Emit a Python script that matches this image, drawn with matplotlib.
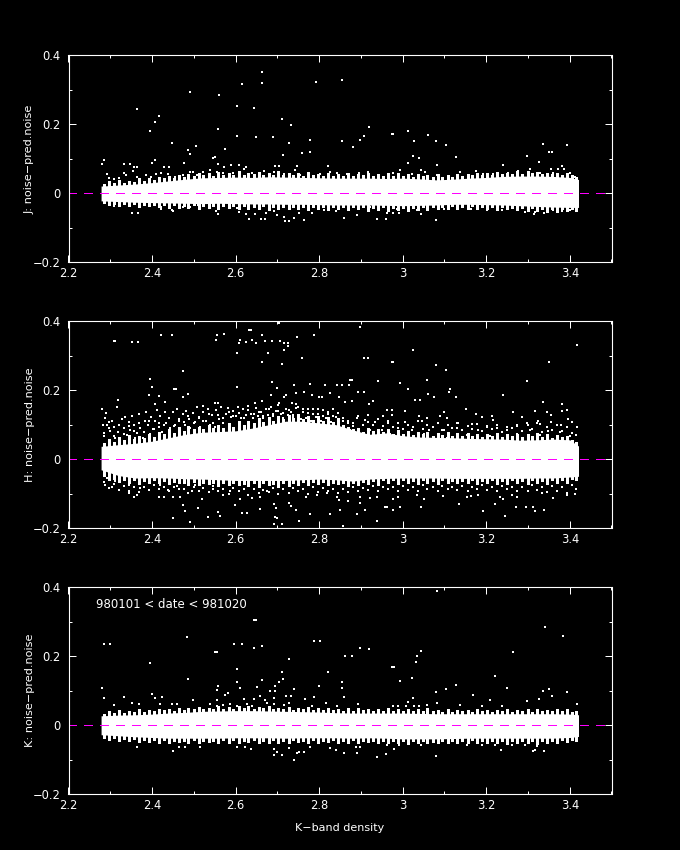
import numpy as np
import matplotlib
matplotlib.use('Agg')
import matplotlib.pyplot as plt

plt.rcParams['font.family'] = ['DejaVu Sans']

x_ticks = [2.2, 2.4, 2.6, 2.8, 3.0, 3.2, 3.4]
x_tick_labels = ['2.2', '2.4', '2.6', '2.8', '3', '3.2', '3.4']
y_ticks = [-0.2, 0, 0.2, 0.4]
y_tick_labels = ['\u22120.2', '0', '0.2', '0.4']
y_names = ['J: noise\u2212pred.noise', 'H: noise\u2212pred.noise', 'K: noise\u2212pred.noise']
x_name = 'K\u2212band density'
date_note = '980101 < date < 981020'

# edges of the solid white band
band_x = [2.278, 2.32, 2.36, 2.40, 2.44, 2.48, 2.52, 2.56, 2.60, 2.64, 2.68, 2.72, 2.76, 2.80, 2.84,
          2.88, 2.92, 2.96, 3.00, 3.04, 3.08, 3.12, 3.16, 3.20, 3.24, 3.28, 3.32, 3.36, 3.40, 3.421]
j_hi = [.021, .024, .027, .031, .036, .041, .045, .046, .047, .046, .048, .047, .046, .045, .044,
        .044, .044, .043, .044, .042, .039, .041, .044, .046, .049, .050, .050, .049, .046, .040]
j_lo = [-.022, -.024, -.026, -.027, -.028, -.029, -.030, -.029, -.030, -.031, -.031, -.032, -.032, -.033, -.034,
        -.034, -.034, -.035, -.036, -.035, -.034, -.032, -.032, -.033, -.034, -.036, -.038, -.040, -.041, -.041]
h_hi = [.037, .042, .046, .052, .062, .072, .078, .080, .082, .090, .100, .110, .110, .105, .100,
        .085, .072, .076, .068, .064, .063, .062, .060, .059, .058, .055, .056, .058, .056, .038]
h_lo = [-.031, -.048, -.055, -.054, -.055, -.057, -.058, -.060, -.062, -.062, -.062, -.062, -.060, -.058, -.060,
        -.064, -.058, -.056, -.055, -.055, -.055, -.056, -.056, -.056, -.056, -.056, -.055, -.055, -.052, -.050]
k_hi = [.027, .029, .030, .032, .035, .037, .040, .041, .042, .042, .041, .040, .039, .038, .036,
        .035, .035, .035, .035, .034, .033, .033, .033, .033, .033, .033, .033, .033, .032, .030]
k_lo = [-.028, -.031, -.034, -.036, -.038, -.038, -.038, -.038, -.037, -.037, -.037, -.038, -.037, -.037, -.037,
        -.038, -.037, -.038, -.040, -.040, -.040, -.039, -.038, -.038, -.038, -.038, -.038, -.038, -.036, -.033]

# rough edge of the band, one value per fringe_x
fringe_x = [2.285, 2.296, 2.309, 2.320, 2.333, 2.344, 2.357, 2.368, 2.380, 2.393, 2.404, 2.416,
            2.428, 2.441, 2.452, 2.464, 2.476, 2.487, 2.500, 2.512, 2.523, 2.536, 2.547, 2.559,
            2.571, 2.584, 2.595, 2.607, 2.619, 2.630, 2.643, 2.655, 2.666, 2.679, 2.690, 2.702,
            2.714, 2.727, 2.738, 2.750, 2.762, 2.773, 2.786, 2.798, 2.809, 2.822, 2.833, 2.845,
            2.857, 2.870, 2.881, 2.893, 2.905, 2.916, 2.929, 2.941, 2.952, 2.965, 2.976, 2.988,
            3.000, 3.013, 3.024, 3.036, 3.048, 3.059, 3.072, 3.084, 3.095, 3.108, 3.119, 3.131,
            3.143, 3.156, 3.167, 3.179, 3.191, 3.202, 3.215, 3.227, 3.238, 3.251, 3.262, 3.274,
            3.286, 3.299, 3.310, 3.322, 3.334, 3.345, 3.358, 3.370, 3.381, 3.394, 3.405, 3.416]
j_edges = [
    [.027, .035, .031, .040, .030, .036, .033, .043, .036, .045, .038, .048,
     .043, .050, .044, .054, .048, .056, .050, .058, .052, .060, .051, .062,
     .053, .060, .052, .064, .053, .059, .055, .062, .052, .060, .054, .065,
     .052, .060, .053, .058, .051, .062, .052, .057, .050, .060, .051, .056,
     .050, .058, .049, .056, .052, .060, .049, .055, .050, .058, .049, .060,
     .050, .057, .048, .056, .049, .054, .046, .055, .047, .052, .048, .056,
     .050, .057, .052, .060, .052, .058, .054, .062, .056, .060, .057, .064,
     .057, .065, .058, .062, .056, .060, .055, .059, .053, .058, .052, .046],
    [-.028, -.035, -.030, -.038, -.032, -.036, -.031, -.040, -.033, -.038, -.034, -.041,
     -.035, -.042, -.034, -.044, -.036, -.042, -.035, -.045, -.037, -.043, -.036, -.046,
     -.037, -.044, -.038, -.047, -.037, -.045, -.039, -.046, -.038, -.048, -.040, -.046,
     -.039, -.047, -.040, -.046, -.041, -.048, -.039, -.047, -.040, -.049, -.041, -.046,
     -.041, -.048, -.040, -.047, -.041, -.050, -.042, -.048, -.041, -.051, -.043, -.048,
     -.042, -.050, -.043, -.048, -.041, -.049, -.040, -.047, -.039, -.046, -.038, -.047,
     -.039, -.046, -.038, -.045, -.039, -.047, -.040, -.048, -.041, -.047, -.042, -.049,
     -.043, -.050, -.044, -.052, -.045, -.053, -.046, -.054, -.047, -.052, -.047, -.050],
]
h_edges = [
    [.046, .058, .050, .064, .054, .070, .058, .066, .060, .074, .064, .080,
     .072, .086, .076, .092, .082, .096, .086, .094, .088, .100, .090, .098,
     .090, .104, .094, .112, .098, .110, .104, .118, .108, .122, .112, .124,
     .116, .128, .118, .130, .116, .126, .114, .124, .112, .122, .108, .118,
     .100, .094, .086, .090, .080, .090, .082, .088, .078, .086, .074, .084,
     .072, .082, .070, .080, .072, .078, .068, .076, .070, .080, .066, .076,
     .068, .076, .066, .074, .064, .072, .066, .076, .064, .072, .066, .074,
     .064, .072, .066, .076, .064, .074, .062, .070, .064, .068, .056, .050],
    [-.048, -.060, -.058, -.066, -.060, -.068, -.062, -.072, -.064, -.070, -.062, -.068,
     -.064, -.072, -.066, -.070, -.068, -.074, -.066, -.076, -.068, -.072, -.070, -.078,
     -.070, -.076, -.068, -.074, -.072, -.078, -.070, -.080, -.070, -.076, -.072, -.082,
     -.068, -.078, -.070, -.074, -.066, -.076, -.066, -.072, -.066, -.074, -.068, -.072,
     -.070, -.078, -.068, -.074, -.066, -.072, -.064, -.074, -.062, -.070, -.062, -.072,
     -.062, -.070, -.064, -.072, -.062, -.068, -.063, -.071, -.062, -.069, -.064, -.070,
     -.063, -.070, -.062, -.072, -.064, -.069, -.062, -.071, -.063, -.072, -.062, -.070,
     -.063, -.072, -.062, -.070, -.064, -.071, -.062, -.069, -.060, -.068, -.058, -.062],
]
k_edges = [
    [.033, .041, .035, .045, .036, .040, .038, .046, .039, .044, .040, .047,
     .043, .048, .042, .050, .045, .049, .047, .053, .046, .050, .048, .054,
     .047, .052, .048, .054, .049, .056, .047, .052, .049, .055, .047, .051,
     .046, .052, .045, .050, .046, .053, .044, .050, .043, .049, .044, .048,
     .042, .049, .041, .050, .043, .047, .041, .048, .042, .050, .041, .047,
     .041, .048, .040, .046, .041, .049, .040, .045, .039, .047, .039, .044,
     .040, .045, .039, .046, .040, .044, .039, .045, .041, .046, .039, .043,
     .040, .046, .039, .047, .040, .045, .041, .048, .040, .046, .039, .042],
    [-.036, -.044, -.038, -.047, -.041, -.046, -.040, -.050, -.043, -.048, -.044, -.051,
     -.044, -.052, -.045, -.050, -.046, -.053, -.044, -.051, -.045, -.050, -.046, -.052,
     -.044, -.051, -.043, -.052, -.045, -.050, -.044, -.053, -.045, -.051, -.044, -.052,
     -.045, -.053, -.044, -.050, -.045, -.052, -.044, -.051, -.045, -.050, -.044, -.053,
     -.045, -.052, -.044, -.051, -.045, -.050, -.046, -.052, -.047, -.053, -.046, -.051,
     -.047, -.054, -.046, -.052, -.047, -.053, -.048, -.052, -.046, -.051, -.047, -.053,
     -.045, -.052, -.044, -.051, -.046, -.053, -.045, -.052, -.046, -.054, -.045, -.051,
     -.046, -.053, -.045, -.055, -.046, -.052, -.045, -.051, -.044, -.050, -.042, -.046],
]
# H band has a wider cloud of loose stars next to the edge
h_cloud = [
    [.076, .090, .068, .100, .074, .096, .082, .104, .078, .112, .088, .106,
     .100, .120, .096, .116, .108, .126, .104, .122, .112, .132, .106, .128,
     .118, .136, .124, .134, .120, .142, .130, .138, .124, .146, .132, .140,
     .134, .142, .128, .150, .136, .144, .132, .146, .126, .138, .124, .134,
     .118, .110, .104, .126, .098, .108, .100, .116, .096, .112, .092, .104,
     .088, .100, .092, .110, .086, .098, .094, .104, .084, .098, .090, .106,
     .084, .096, .088, .102, .082, .092, .086, .098, .080, .094, .090, .100,
     .082, .098, .086, .104, .080, .094, .084, .100, .082, .092, .076, .070],
    [-.066, -.084, -.072, -.090, -.078, -.092, -.080, -.096, -.082, -.090, -.076, -.086,
     -.082, -.094, -.080, -.088, -.086, -.098, -.082, -.092, -.084, -.096, -.088, -.094,
     -.086, -.100, -.084, -.092, -.088, -.104, -.086, -.098, -.090, -.096, -.084, -.102,
     -.088, -.098, -.084, -.094, -.086, -.100, -.082, -.096, -.084, -.092, -.086, -.098,
     -.086, -.096, -.080, -.092, -.084, -.090, -.078, -.094, -.080, -.088, -.082, -.092,
     -.078, -.090, -.082, -.094, -.076, -.088, -.080, -.092, -.078, -.086, -.082, -.090,
     -.078, -.092, -.080, -.086, -.076, -.090, -.082, -.094, -.078, -.088, -.080, -.092,
     -.080, -.094, -.076, -.090, -.082, -.096, -.078, -.092, -.080, -.098, -.076, -.088],
]

# single stars outside the band
j_points = [
    (2.664, .351), (2.616, .316), (2.664, .321), (2.793, .322), (2.491, .295), (2.561, .285), (2.604, .254),
    (2.363, .246), (2.645, .248), (2.417, .225), (2.406, .208), (2.710, .215), (2.733, .199), (2.394, .182),
    (2.558, .186), (2.604, .167), (2.650, .163), (2.690, .164), (2.777, .156), (2.447, .146), (2.727, .145),
    (2.506, .137), (2.487, .127), (2.574, .130), (2.491, .115), (2.713, .111), (2.760, .116), (2.777, .120),
    (2.550, .106), (2.284, .097), (2.281, .086), (2.363, .075), (2.356, .075), (2.354, .066), (2.334, .085),
    (2.348, .085), (2.406, .097), (2.400, .087), (2.429, .076), (2.440, .076), (2.477, .088), (2.547, .102),
    (2.558, .084), (2.572, .077), (2.590, .082), (2.608, .082), (2.626, .076), (2.695, .078), (2.705, .078),
    (2.746, .078), (2.743, .068), (2.821, .079), (2.292, .055), (2.297, .045), (2.308, .041), (2.322, .043),
    (2.333, .060), (2.337, .053), (2.364, .047), (2.386, .053), (2.397, .048), (2.410, .057), (2.421, .058),
    (2.439, .056), (2.455, .048), (2.475, .053), (2.491, .062), (2.499, .063), (2.507, .053), (2.523, .063),
    (2.538, .068), (2.555, .063), (2.571, .058), (2.595, .060), (2.619, .070), (2.639, .058), (2.667, .066),
    (2.691, .063), (2.715, .056), (2.755, .053), (2.803, .056), (2.827, .063), (2.843, .058),
    (2.308, -.037), (2.344, -.031), (2.352, -.058), (2.366, -.058), (2.372, -.034), (2.421, -.047), (2.421, -.041),
    (2.447, -.048), (2.451, -.051), (2.432, -.034), (2.475, -.041), (2.491, -.041), (2.511, -.034), (2.554, -.051),
    (2.558, -.060), (2.561, -.041), (2.603, -.044), (2.609, -.053), (2.626, -.061), (2.647, -.061), (2.631, -.075),
    (2.661, -.075), (2.671, -.075), (2.673, -.056), (2.691, -.051), (2.699, -.063), (2.715, -.068), (2.719, -.079),
    (2.729, -.079), (2.739, -.073), (2.751, -.058), (2.765, -.078), (2.783, -.058), (2.811, -.048), (2.841, -.051),
    (2.854, .328), (2.919, .192), (2.978, .172), (2.974, .172), (3.013, .182), (2.907, .167), (2.898, .156),
    (2.854, .153), (2.880, .135), (3.061, .168), (3.028, .153), (3.080, .153), (3.104, .141), (3.024, .109),
    (3.038, .102), (3.013, .087), (3.082, .081), (3.128, .104), (3.335, .142), (3.394, .141), (3.351, .120),
    (3.358, .119), (3.298, .108), (3.327, .090), (3.240, .082), (3.355, .071), (3.372, .071), (3.381, .079),
    (3.387, .071), (2.896, .058), (2.917, .063), (2.866, .055), (2.994, .068), (2.976, .058), (3.022, .055),
    (3.043, .068), (3.053, .062), (3.082, .053), (3.137, .063), (3.176, .066), (3.193, .056), (3.217, .056),
    (3.253, .060), (3.275, .066), (3.305, .070), (3.329, .060), (3.361, .058), (3.401, .060), (3.413, .048),
    (2.860, -.071), (2.890, -.063), (2.938, -.075), (2.960, -.075), (2.963, -.056), (2.978, -.056), (2.992, -.056),
    (3.043, -.060), (3.034, -.048), (3.080, -.078), (2.986, -.047), (2.922, -.041), (3.099, -.045), (3.133, -.047),
    (3.164, -.045), (3.201, -.048), (3.238, -.048), (3.265, -.039), (3.293, -.053), (3.317, -.055), (3.315, -.061),
    (3.339, -.056), (3.361, -.048), (3.381, -.050), (3.401, -.048), (3.415, -.044),
]

h_points = [
    (2.308, .342), (2.312, .342), (2.352, .340), (2.367, .340), (2.422, .360), (2.447, .360), (2.555, .360),
    (2.552, .347), (2.573, .363), (2.632, .374), (2.636, .374), (2.703, .396), (2.663, .360), (2.611, .345),
    (2.609, .336), (2.626, .340), (2.639, .345), (2.648, .338), (2.671, .344), (2.687, .342), (2.707, .342),
    (2.716, .338), (2.726, .338), (2.715, .318), (2.726, .328), (2.747, .354), (2.787, .360), (2.603, .309),
    (2.677, .309), (2.758, .293), (2.663, .283), (2.710, .277), (2.474, .257), (2.394, .233), (2.400, .208),
    (2.453, .204), (2.458, .204), (2.603, .208), (2.687, .224), (2.699, .206), (2.739, .214), (2.779, .218),
    (2.813, .214), (2.843, .216), (2.393, .185), (2.417, .184), (2.487, .189), (2.475, .180), (2.431, .166),
    (2.319, .171), (2.316, .152), (2.406, .160), (2.523, .154), (2.550, .163), (2.557, .163), (2.685, .185),
    (2.663, .170), (2.647, .162), (2.715, .179), (2.721, .187), (2.745, .191), (2.765, .195), (2.784, .185),
    (2.799, .179), (2.807, .179), (2.825, .192), (2.847, .180), (2.735, .163), (2.745, .161), (2.703, .163),
    (2.280, .144),
    (2.282, .098), (2.285, .068), (2.290, .135), (2.288, .118), (2.292, .100), (2.296, .108), (2.300, .082),
    (2.304, .112), (2.310, .094), (2.312, .060), (2.318, .078), (2.322, .055), (2.328, .115), (2.332, .090),
    (2.336, .122), (2.340, .070), (2.344, .108), (2.348, .084), (2.352, .124), (2.356, .098), (2.360, .060),
    (2.364, .076), (2.368, .130), (2.372, .090), (2.378, .062), (2.382, .110), (2.386, .138), (2.390, .100),
    (2.394, .072), (2.398, .122), (2.402, .086), (2.408, .112), (2.412, .142), (2.416, .094), (2.420, .126),
    (2.424, .080), (2.430, .138), (2.434, .104), (2.440, .118), (2.444, .090), (2.450, .136), (2.454, .098),
    (2.460, .146), (2.464, .112), (2.468, .086), (2.474, .130), (2.478, .100), (2.482, .140), (2.488, .116),
    (2.492, .090), (2.498, .134), (2.502, .108), (2.508, .150), (2.512, .120), (2.516, .092), (2.522, .138),
    (2.528, .110), (2.534, .146), (2.538, .100), (2.544, .128), (2.550, .094), (2.554, .142), (2.560, .116),
    (2.566, .150), (2.570, .106), (2.576, .130), (2.582, .148), (2.588, .122), (2.594, .140), (2.600, .126),
    (2.606, .152), (2.612, .118), (2.618, .144), (2.624, .128), (2.630, .154), (2.636, .130), (2.642, .120),
    (2.648, .148), (2.654, .126), (2.660, .136), (2.666, .118), (2.672, .144), (2.678, .128), (2.684, .150),
    (2.690, .124), (2.696, .140), (2.702, .156), (2.708, .130), (2.714, .118), (2.720, .146), (2.726, .128),
    (2.732, .138), (2.738, .122), (2.744, .148), (2.750, .126), (2.756, .116), (2.762, .144), (2.768, .118),
    (2.774, .134), (2.780, .112), (2.786, .146), (2.792, .122), (2.798, .132), (2.804, .110), (2.810, .142),
    (2.816, .120), (2.822, .130), (2.828, .108), (2.834, .144), (2.840, .122), (2.846, .112),
    (2.898, .383), (3.024, .316), (3.418, .330), (2.907, .293), (2.918, .293), (2.978, .282), (2.974, .282),
    (3.080, .273), (3.104, .260), (3.351, .283), (2.874, .231), (2.879, .231), (2.854, .216), (2.872, .216),
    (2.942, .226), (2.994, .222), (3.058, .231), (3.013, .204), (3.113, .204), (3.110, .195), (3.298, .228),
    (2.894, .196), (2.907, .195), (3.061, .190), (3.240, .185), (3.128, .179), (3.030, .173), (3.042, .173),
    (3.074, .180), (2.930, .170), (3.335, .166), (3.382, .159), (2.879, .170), (2.862, .166), (2.919, .160),
    (3.152, .144), (3.317, .140), (3.265, .136), (2.962, .142), (2.975, .142), (3.006, .139), (3.098, .137),
    (3.176, .132), (3.381, .140), (3.393, .142), (3.345, .137), (3.355, .129), (3.285, .121), (3.213, .125),
    (3.189, .121), (2.918, .129), (2.890, .119), (2.954, .124), (2.975, .127), (3.038, .124), (3.059, .119),
    (3.090, .124), (3.105, .119), (3.217, .113), (3.323, .112), (3.397, .116), (3.405, .109), (3.356, .109),
    (3.379, .100), (3.417, .092), (2.858, .111), (2.870, .105), (2.882, .095), (2.910, .114), (2.934, .109),
    (2.966, .105), (3.006, .109), (3.046, .111), (3.133, .105), (3.165, .102), (3.201, .095), (3.273, .095),
    (3.297, .105), (3.329, .102), (2.922, .085), (2.950, .085), (2.990, .090), (3.022, .085), (3.062, .085),
    (3.098, .085), (3.129, .090), (3.181, .085), (3.225, .090), (3.249, .085), (3.305, .085), (3.349, .083),
    (3.377, .080), (2.874, .085), (3.401, .066), (2.970, .073), (3.050, .073), (3.105, .061), (3.153, .071),
    (3.209, .066), (3.273, .073), (3.329, .071),
    (2.288, -.075), (2.304, -.081), (2.312, -.065), (2.292, -.055), (2.344, -.075), (2.356, -.111), (2.344, -.099),
    (2.365, -.104), (2.372, -.084), (2.396, -.070), (2.416, -.111), (2.428, -.109), (2.451, -.170), (2.474, -.133),
    (2.479, -.152), (2.451, -.109), (2.467, -.110), (2.438, -.089), (2.420, -.075), (2.459, -.077), (2.495, -.094),
    (2.491, -.183), (2.511, -.141), (2.519, -.115), (2.533, -.167), (2.503, -.075), (2.523, -.084), (2.547, -.079),
    (2.559, -.154), (2.563, -.164), (2.571, -.104), (2.587, -.094), (2.599, -.133), (2.611, -.115), (2.615, -.157),
    (2.627, -.157), (2.639, -.113), (2.659, -.144), (2.659, -.109), (2.675, -.094), (2.691, -.131), (2.697, -.142),
    (2.695, -.167), (2.700, -.170), (2.691, -.189), (2.711, -.189), (2.729, -.128), (2.733, -.137), (2.745, -.147),
    (2.751, -.181), (2.779, -.160), (2.825, -.158), (2.769, -.109), (2.795, -.104), (2.819, -.099), (2.843, -.109),
    (2.849, -.147), (2.847, -.118),
    (2.858, -.193), (2.938, -.179), (2.890, -.160), (2.910, -.147), (2.958, -.139), (2.963, -.139), (2.978, -.147),
    (2.994, -.138), (2.990, -.109), (2.976, -.116), (2.898, -.126), (2.868, -.121), (2.899, -.111), (2.922, -.113),
    (2.938, -.111), (3.034, -.104), (3.050, -.115), (3.043, -.140), (3.097, -.106), (3.134, -.129), (3.153, -.111),
    (3.163, -.106), (3.181, -.104), (3.192, -.152), (3.220, -.131), (3.233, -.111), (3.241, -.115), (3.246, -.164),
    (3.261, -.104), (3.273, -.111), (3.272, -.140), (3.295, -.140), (3.313, -.140), (3.318, -.152), (3.339, -.148),
    (3.361, -.113), (3.333, -.099), (3.393, -.104), (3.413, -.102),
]

k_points = [
    (2.644, .306), (2.648, .306), (2.483, .255), (2.285, .235), (2.300, .235), (2.597, .235), (2.616, .235),
    (2.788, .243), (2.801, .243), (2.645, .225), (2.664, .229), (2.551, .211), (2.555, .211), (2.727, .193),
    (2.394, .180), (2.604, .163), (2.710, .153), (2.821, .154), (2.487, .133), (2.604, .125), (2.664, .130),
    (2.713, .134), (2.705, .126), (2.800, .114), (2.557, .114), (2.281, .107), (2.555, .103), (2.611, .107),
    (2.651, .110), (2.695, .114), (2.741, .105), (2.400, .091), (2.575, .088), (2.583, .093), (2.285, .078),
    (2.333, .083), (2.406, .078), (2.425, .081), (2.498, .072), (2.683, .100), (2.695, .100), (2.721, .085),
    (2.732, .085), (2.767, .076), (2.787, .081), (2.659, .085), (2.643, .076), (2.619, .076), (2.671, .074),
    (2.691, .078), (2.555, .072), (2.308, .059), (2.352, .064), (2.368, .062), (2.419, .062), (2.447, .062),
    (2.459, .062), (2.539, .062), (2.555, .054), (2.571, .059), (2.587, .062), (2.603, .054), (2.627, .062),
    (2.639, .054), (2.675, .064), (2.691, .062), (2.715, .059), (2.727, .064), (2.783, .056), (2.816, .064),
    (2.844, .056),
    (2.365, -.065), (2.451, -.075), (2.465, -.065), (2.479, -.065), (2.515, -.065), (2.603, -.065), (2.623, -.065),
    (2.637, -.069), (2.691, -.069), (2.692, -.086), (2.699, -.077), (2.711, -.088), (2.739, -.101), (2.729, -.067),
    (2.747, -.081), (2.753, -.079), (2.765, -.079), (2.779, -.065), (2.825, -.067), (2.841, -.072),
    (3.082, .388), (3.341, .285), (3.385, .260), (2.898, .225), (2.919, .222), (3.043, .214), (2.863, .202),
    (2.879, .202), (2.974, .168), (2.979, .168), (3.034, .201), (3.032, .184), (3.265, .211), (3.221, .142),
    (3.022, .137), (2.994, .128), (2.854, .126), (2.854, .109), (3.128, .115), (3.104, .105), (3.080, .096),
    (3.250, .109), (3.168, .088), (2.860, .083), (3.351, .105), (3.335, .100), (3.358, .084), (3.394, .097),
    (3.024, .078), (3.209, .072), (3.298, .069), (3.327, .075), (3.013, .068), (2.894, .062), (3.418, .060),
    (2.978, .056), (2.989, .056), (3.008, .056), (3.027, .054), (3.039, .054), (3.059, .058), (3.082, .064),
    (3.137, .057), (3.191, .056), (3.239, .056),
    (2.860, -.082), (2.890, -.082), (2.888, -.064), (2.898, -.065), (2.938, -.094), (2.960, -.085), (2.979, -.069),
    (2.992, -.059), (2.963, -.057), (3.043, -.059), (3.080, -.089), (3.153, -.057), (3.189, -.057), (3.221, -.059),
    (3.236, -.072), (3.261, -.059), (3.293, -.059), (3.317, -.072), (3.313, -.075), (3.339, -.075), (3.321, -.062),
]

panels = [(j_hi, j_lo, j_points, j_edges, []), (h_hi, h_lo, h_points, h_edges, h_cloud), (k_hi, k_lo, k_points, k_edges, [])]
tops = [55.5, 321.3, 587.3]

fig = plt.figure(figsize=(6.8, 8.5), dpi=100, facecolor='black')
for i in range(3):
    hi, lo, points, edges, cloud = panels[i]
    ax = fig.add_axes([68.5 / 680, 1 - (tops[i] + 206.7) / 850, 543 / 680, 206.7 / 850], facecolor='black')
    ax.fill_between(band_x, lo, hi, color='white', linewidth=0, antialiased=False)
    for row in edges:
        ax.vlines(fringe_x, 0, row, colors='white', lw=2.0, antialiased=False)
    pts = np.array(points)
    ax.plot(pts[:, 0], pts[:, 1], 's', color='white', ms=1.45, mew=0, antialiased=False)
    for row in cloud:
        ax.plot(fringe_x, row, 's', color='white', ms=1.45, mew=0, antialiased=False)
    ax.plot([2.2, 3.5], [0, 0], color='#ff00ff', lw=0.72, dashes=(9, 8), dash_capstyle='butt', antialiased=False)

    ax.set_xlim(2.2, 3.5)
    ax.set_ylim(-0.2, 0.4)
    ax.set_xticks(x_ticks, x_tick_labels)
    ax.set_yticks(y_ticks, y_tick_labels)
    ax.set_xticks(np.arange(2.3, 3.5, 0.2), minor=True)
    ax.set_yticks([-0.1, 0.1, 0.3], minor=True)
    ax.tick_params(which='major', direction='in', length=5, width=0.72, color='white', labelcolor='white',
                   top=True, right=True, labelsize=8.3)
    ax.tick_params(which='minor', direction='in', length=2.5, width=0.72, color='white', top=True, right=True)
    ax.tick_params(axis='x', which='major', pad=3.5)
    ax.tick_params(axis='y', which='major', pad=5.5)
    for s in ax.spines.values():
        s.set_color('white')
        s.set_linewidth(0.8)
    ax.set_ylabel(y_names[i], color='white', fontsize=8.1, va='center')
    ax.yaxis.set_label_coords(-0.071, 0.5)

ax.set_xlabel(x_name, color='white', fontsize=8, va='center')
ax.xaxis.set_label_coords(0.5, -0.163)
ax.text(2.266, 0.35, date_note, color='white', fontsize=8.5, va='center')

fig.savefig('out.png', dpi=100, facecolor='black')
